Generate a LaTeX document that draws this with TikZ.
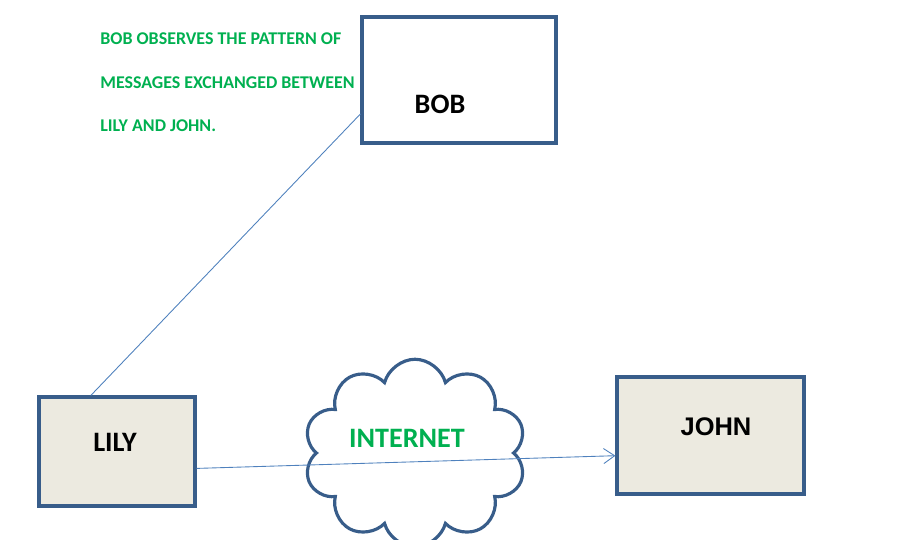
\documentclass[tikz,border=0pt]{standalone}
\usepackage{fontspec}
\setmainfont{Carlito}
\newfontfamily\arialfont{Liberation Sans}
\usetikzlibrary{arrows.meta,positioning,shapes.symbols}
\definecolor{boxblue}{RGB}{56,93,138}
\definecolor{linkblue}{RGB}{79,129,189}
\definecolor{notegreen}{RGB}{0,176,80}
\definecolor{boxfill}{RGB}{236,234,224}

\begin{document}
\begin{tikzpicture}[
  x=0.02cm, y=-0.02cm,
  party/.style={draw=boxblue, line width=1.8pt, inner sep=0pt},
  partyname/.style={font=\bfseries\fontsize{16}{18}\selectfont, inner sep=0pt},
  link/.style={draw=linkblue, line width=0.5pt},
  arr/.style={link, -{Straight Barb[length=2.2mm, width=3mm]}}
]
\useasboundingbox (0,0) rectangle (900,540);
\node[party, fill=white, minimum width=3.88cm, minimum height=2.52cm] (bob) at (459,80) {};
\node[partyname] (bobname) at (440,104) {BOB};
\node[party, fill=boxfill, minimum width=3.12cm, minimum height=2.18cm] (lily) at (117,451.5) {};
\node[partyname] (lilyname) at (115,442) {LILY};
\node[party, fill=boxfill, minimum width=3.74cm, minimum height=2.34cm] (john) at (710.5,435.5) {};
\node[partyname, font=\arialfont\bfseries\fontsize{14.5}{16}\selectfont] (johnname) at (716,427) {JOHN};
\node[cloud, draw=boxblue, line width=1.8pt, cloud puffs=10, aspect=1.2,
  minimum width=4.45cm, minimum height=3.75cm] (net) at (415,453) {};
\node[partyname, text=notegreen] (netname) at (407,438) {INTERNET};
\node[anchor=north west, inner sep=0pt, align=left, text=notegreen,
  font=\bfseries\fontsize{10.2}{25}\selectfont] (note) at (100,32)
  {BOB OBSERVES THE PATTERN OF\\MESSAGES EXCHANGED BETWEEN\\LILY AND JOHN.};
\draw[link] (bob.199) -- (lily.115);
\draw[arr] (lily.-12.6) -- (john.192);
\end{tikzpicture}
\end{document}
